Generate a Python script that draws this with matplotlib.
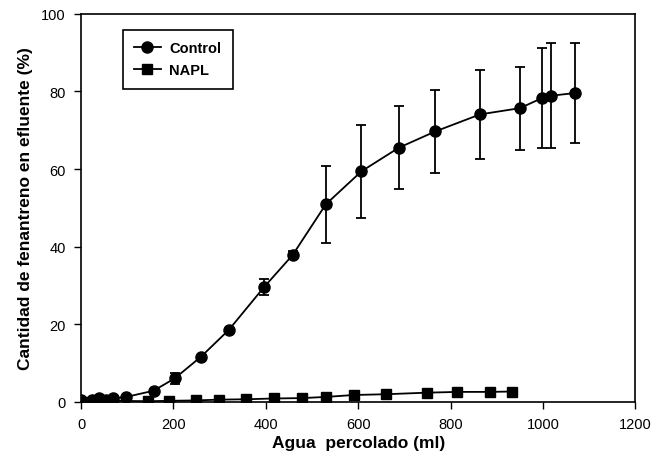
import numpy as np
import matplotlib.pyplot as plt

plt.rcParams['font.family'] = ['Liberation Sans', 'DejaVu Sans']

# Control column: percolated water (ml) vs phenanthrene in effluent (%)
control_x = [0, 23, 38, 55, 70, 98, 157, 203, 260, 320, 396, 458, 530, 607,
             688, 767, 864, 950, 998, 1017, 1069]
control_y = [0.3, 0.5, 0.8, 0.5, 0.8, 1.2, 2.8, 6.0, 11.6, 18.5, 29.5, 37.8,
             50.9, 59.4, 65.5, 69.7, 74.1, 75.7, 78.3, 78.9, 79.6]
control_err = [0, 0, 0, 0, 0, 0, 0, 1.4, 0, 0, 2.0, 1.0, 10.0, 12.0, 10.7,
               10.7, 11.5, 10.7, 12.8, 13.5, 13.0]

# NAPL column
napl_x = [0, 23, 38, 55, 70, 146, 190, 248, 298, 358, 417, 478, 530, 590,
          660, 749, 815, 885, 933]
napl_y = [0.0, 0.0, 0.0, 0.1, 0.2, 0.1, 0.2, 0.3, 0.5, 0.6, 0.8, 0.9, 1.2,
          1.7, 1.9, 2.3, 2.5, 2.5, 2.6]

fig = plt.figure(figsize=(6.56, 4.77), dpi=100)
ax = fig.add_axes([0.1235, 0.156, 0.845, 0.8126])

ctrl = ax.errorbar(control_x, control_y, yerr=control_err, color='black',
                   marker='o', markersize=8, linewidth=1.3, elinewidth=1.3,
                   capsize=3.5, capthick=1.3, zorder=3)
napl, = ax.plot(napl_x, napl_y, color='black', marker='s', markersize=7.5,
                linewidth=1.3, zorder=3)

ax.set_xlim(0, 1200)
ax.set_ylim(0, 100)
ax.set_xticks(np.arange(0, 1201, 200))
ax.set_yticks(np.arange(0, 101, 20))
ax.tick_params(direction='out', length=5, width=1, labelsize=10.5,
               pad=6)
for side in ax.spines.values():
    side.set_linewidth(1.2)

ax.set_xlabel('Agua  percolado (ml)', fontsize=12.5, fontweight='bold',
              labelpad=3)
ax.set_ylabel('Cantidad de fenantreno en efluente (%)', fontsize=12.5,
              fontweight='bold', labelpad=6)

leg = ax.legend([ctrl[0], napl], ['Control', 'NAPL'], loc='upper left',
                bbox_to_anchor=(0.062, 0.978), fancybox=False,
                edgecolor='black', framealpha=1,
                prop={'weight': 'bold', 'size': 10.5}, handlelength=1.8,
                handletextpad=0.6, borderpad=0.8, labelspacing=0.55)
leg.get_frame().set_linewidth(1.2)

fig.savefig('out.png', dpi=100)
